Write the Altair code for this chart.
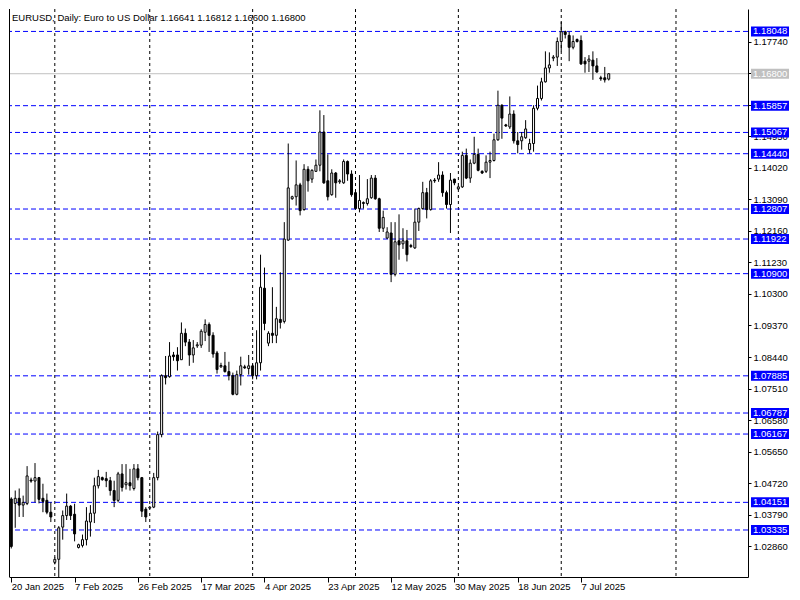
import altair as alt
import pandas as pd

# ---------------- data ----------------
opens = [1.0425, 1.0412, 1.0427, 1.0407, 1.0412, 1.0481, 1.0478, 1.0488, 1.0427, 1.0421,
         1.0386, 1.0238, 1.0247, 1.0342, 1.0376, 1.0404, 1.0380, 1.0282, 1.0288, 1.0305,
         1.0357, 1.0383, 1.0464, 1.0488, 1.0485, 1.0479, 1.0450, 1.0421, 1.0499, 1.0467,
         1.0473, 1.0456, 1.0514, 1.0488, 1.0395, 1.0398, 1.0401, 1.0488, 1.0615, 1.0789,
         1.0786, 1.0850, 1.0850, 1.0836, 1.0914, 1.0888, 1.0850, 1.0877, 1.0879, 1.0917,
         1.0940, 1.0908, 1.0856, 1.0815, 1.0818, 1.0801, 1.0789, 1.0734, 1.0792, 1.0815,
         1.0810, 1.0818, 1.0789, 1.0827, 1.1047, 1.0885, 1.0914, 1.0908, 1.0955, 1.0949,
         1.1189, 1.1311, 1.1317, 1.1352, 1.1279, 1.1398, 1.1369, 1.1392, 1.1410, 1.1508,
         1.1364, 1.1323, 1.1387, 1.1361, 1.1358, 1.1421, 1.1384, 1.1329, 1.1282, 1.1297,
         1.1297, 1.1314, 1.1372, 1.1311, 1.1224, 1.1195, 1.1210, 1.1088, 1.1187, 1.1178,
         1.1187, 1.1170, 1.1166, 1.1242, 1.1282, 1.1329, 1.1279, 1.1366, 1.1369, 1.1381,
         1.1329, 1.1294, 1.1369, 1.1340, 1.1346, 1.1439, 1.1372, 1.1416, 1.1442, 1.1392,
         1.1392, 1.1419, 1.1424, 1.1485, 1.1587, 1.1529, 1.1523, 1.1561, 1.1482, 1.1482,
         1.1491, 1.1456, 1.1474, 1.1578, 1.1607, 1.1656, 1.1697, 1.1726, 1.1729, 1.1775,
         1.1804, 1.1793, 1.1758, 1.1781, 1.1778, 1.1717, 1.1717, 1.1720, 1.1703, 1.1668,
         1.1668, 1.16641]
highs = [1.0430, 1.0450, 1.0456, 1.0435, 1.0522, 1.0488, 1.0531, 1.0490, 1.0470, 1.0441,
         1.0415, 1.0253, 1.0345, 1.0391, 1.0441, 1.0407, 1.0411, 1.0293, 1.0320, 1.0401,
         1.0407, 1.0488, 1.0511, 1.0491, 1.0505, 1.0490, 1.0479, 1.0505, 1.0528, 1.0528,
         1.0514, 1.0528, 1.0528, 1.0490, 1.0401, 1.0404, 1.0502, 1.0624, 1.0793, 1.0847,
         1.0888, 1.0859, 1.0873, 1.0946, 1.0928, 1.0897, 1.0894, 1.0888, 1.0926, 1.0955,
         1.0946, 1.0917, 1.0862, 1.0827, 1.0859, 1.0830, 1.0798, 1.0804, 1.0845, 1.0821,
         1.0850, 1.0824, 1.0923, 1.1146, 1.1108, 1.0920, 1.1050, 1.0992, 1.1094, 1.1242,
         1.1474, 1.1320, 1.1424, 1.1358, 1.1413, 1.1407, 1.1398, 1.1427, 1.1572, 1.1558,
         1.1442, 1.1398, 1.1390, 1.1369, 1.1427, 1.1424, 1.1395, 1.1332, 1.1381, 1.1303,
         1.1369, 1.1381, 1.1381, 1.1314, 1.1276, 1.1227, 1.1242, 1.1242, 1.1265, 1.1224,
         1.1219, 1.1178, 1.1282, 1.1285, 1.1361, 1.1343, 1.1369, 1.1372, 1.1419, 1.1392,
         1.1335, 1.1387, 1.1370, 1.1349, 1.1450, 1.1459, 1.1427, 1.1494, 1.1459, 1.1395,
         1.1439, 1.1450, 1.1503, 1.1630, 1.1590, 1.1532, 1.1613, 1.1572, 1.1508, 1.1508,
         1.1543, 1.1488, 1.1587, 1.1645, 1.1668, 1.1746, 1.1743, 1.1735, 1.1787, 1.1833,
         1.1807, 1.1804, 1.1793, 1.1784, 1.1793, 1.1729, 1.1735, 1.1746, 1.1726, 1.1674,
         1.1700, 1.16812]
lows = [1.0279, 1.0340, 1.0372, 1.0372, 1.0407, 1.0473, 1.0415, 1.0412, 1.0386, 1.0380,
        1.0357, 1.0232, 1.0141, 1.0305, 1.0363, 1.0363, 1.0300, 1.0279, 1.0282, 1.0288,
        1.0314, 1.0354, 1.0456, 1.0479, 1.0460, 1.0435, 1.0401, 1.0415, 1.0447, 1.0453,
        1.0450, 1.0450, 1.0480, 1.0372, 1.0357, 1.0395, 1.0398, 1.0480, 1.0607, 1.0763,
        1.0783, 1.0833, 1.0804, 1.0836, 1.0876, 1.0818, 1.0827, 1.0871, 1.0871, 1.0891,
        1.0859, 1.0842, 1.0795, 1.0812, 1.0798, 1.0775, 1.0731, 1.0731, 1.0760, 1.0809,
        1.0792, 1.0778, 1.0778, 1.0804, 1.0923, 1.0876, 1.0885, 1.0885, 1.0928, 1.0943,
        1.1187, 1.1308, 1.1291, 1.1262, 1.1276, 1.1332, 1.1358, 1.1390, 1.1392, 1.1355,
        1.1306, 1.1320, 1.1314, 1.1355, 1.1355, 1.1364, 1.1317, 1.1280, 1.1271, 1.1282,
        1.1291, 1.1311, 1.1308, 1.1213, 1.1213, 1.1192, 1.1065, 1.1082, 1.1131, 1.1163,
        1.1126, 1.1166, 1.1163, 1.1216, 1.1279, 1.1253, 1.1276, 1.1358, 1.1361, 1.1317,
        1.1282, 1.1210, 1.1351, 1.1337, 1.1343, 1.1369, 1.1358, 1.1413, 1.1392, 1.1384,
        1.1387, 1.1372, 1.1421, 1.1482, 1.1488, 1.1523, 1.1517, 1.1474, 1.1445, 1.1456,
        1.1488, 1.1445, 1.1450, 1.1572, 1.1601, 1.1654, 1.1683, 1.1717, 1.1703, 1.1746,
        1.1784, 1.1717, 1.1752, 1.1772, 1.1706, 1.1683, 1.1685, 1.1662, 1.1683, 1.1659,
        1.1654, 1.16600]
closes = [1.0285, 1.0427, 1.0407, 1.0415, 1.0493, 1.0478, 1.0488, 1.0424, 1.0418, 1.0386,
          1.0372, 1.0247, 1.0340, 1.0376, 1.0404, 1.0376, 1.0322, 1.0290, 1.0305, 1.0360,
          1.0383, 1.0464, 1.0491, 1.0482, 1.0479, 1.0450, 1.0421, 1.0499, 1.0459, 1.0473,
          1.0464, 1.0514, 1.0488, 1.0389, 1.0372, 1.0401, 1.0488, 1.0615, 1.0789, 1.0783,
          1.0847, 1.0845, 1.0833, 1.0914, 1.0888, 1.0850, 1.0871, 1.0880, 1.0920, 1.0940,
          1.0908, 1.0853, 1.0807, 1.0819, 1.0801, 1.0789, 1.0734, 1.0792, 1.0818, 1.0812,
          1.0818, 1.0789, 1.0827, 1.1050, 1.0943, 1.0914, 1.0908, 1.0957, 1.0946, 1.1192,
          1.1343, 1.1317, 1.1352, 1.1276, 1.1398, 1.1364, 1.1395, 1.1410, 1.1508, 1.1358,
          1.1317, 1.1387, 1.1358, 1.1364, 1.1421, 1.1384, 1.1323, 1.1282, 1.1306, 1.1300,
          1.1311, 1.1372, 1.1311, 1.1224, 1.1256, 1.1213, 1.1088, 1.1184, 1.1175, 1.1187,
          1.1146, 1.1173, 1.1242, 1.1282, 1.1329, 1.1279, 1.1364, 1.1364, 1.1381, 1.1329,
          1.1294, 1.1366, 1.1358, 1.1346, 1.1439, 1.1372, 1.1416, 1.1442, 1.1395, 1.1387,
          1.1419, 1.1424, 1.1485, 1.1587, 1.1549, 1.1526, 1.1561, 1.1482, 1.1471, 1.1494,
          1.1517, 1.1474, 1.1578, 1.1607, 1.1656, 1.1697, 1.1706, 1.1729, 1.1775, 1.1804,
          1.1796, 1.1758, 1.1775, 1.1775, 1.1709, 1.1709, 1.1723, 1.1703, 1.1685, 1.1665,
          1.1662, 1.16800]

level_values = [1.18048, 1.15857, 1.15067, 1.14440, 1.12807, 1.11922, 1.10900,
                1.07885, 1.06787, 1.06167, 1.04151, 1.03335]
current_price = [1.16800]
y_tick_values = [1.02860, 1.03790, 1.04720, 1.05650, 1.06580, 1.07510, 1.08440,
                 1.09370, 1.10300, 1.11230, 1.12160, 1.13090, 1.14020, 1.14950,
                 1.15880, 1.16810, 1.17740]
x_tick_index = [0, 16, 32, 48, 64, 80, 96, 112, 128, 144]
x_tick_labels = ["20 Jan 2025", "7 Feb 2025", "26 Feb 2025", "17 Mar 2025", "4 Apr 2025",
                 "23 Apr 2025", "12 May 2025", "30 May 2025", "18 Jun 2025", "7 Jul 2025"]
grid_index = [11, 35, 61, 87, 113, 139, 168]
header = ["EURUSD, Daily:  Euro to US Dollar  1.16641 1.16812 1.16600 1.16800"]

# ---------------- chart ----------------
W, H = 739, 568
FONT = "Liberation Sans"
FS = 9.5
LEVEL_BLUE = "#0000ff"
PRICE_GREY = "#c0c0c0"

df = pd.DataFrame({"i": list(range(len(opens))), "open": opens, "high": highs,
                   "low": lows, "close": closes})
df["body_fill"] = ["white" if c >= o else "black" for o, c in zip(opens, closes)]

levels = pd.DataFrame({"level": level_values,
                       "label": [f"{v:.5f}" for v in level_values]})
price = pd.DataFrame({"level": current_price,
                      "label": [f"{v:.5f}" for v in current_price]})
grid = pd.DataFrame({"i": grid_index})

xs = alt.Scale(domain=[-0.575, 186.2], nice=False, zero=False, padding=0)
ys = alt.Scale(domain=[1.01948, 1.1871], nice=False, zero=False, padding=0)

label_js = "[" + ",".join(f"'{s}'" for s in x_tick_labels) + "]"
idx_js = "[" + ",".join(str(v) for v in x_tick_index) + "]"
x_axis = alt.Axis(values=x_tick_index, labelExpr=f"{label_js}[indexof({idx_js}, datum.value)]",
                  orient="bottom", grid=False, title=None, domainColor="black",
                  tickColor="black", tickSize=5, labelAlign="left", labelBaseline="top",
                  labelFont=FONT, labelFontSize=FS, labelColor="black", labelPadding=-1,
                  labelOverlap=False, labelFlush=False, labelBound=False)
y_axis = alt.Axis(values=y_tick_values, format=".5f", orient="right", grid=False,
                  title=None, domainColor="black", tickColor="black", tickSize=3,
                  labelFont=FONT, labelFontSize=FS, labelColor="black", labelPadding=2,
                  labelOverlap=False, labelFlush=False, labelBound=False)

X = lambda f: alt.X(f, scale=xs, axis=x_axis)
Y = lambda f: alt.Y(f, scale=ys, axis=y_axis)

vgrid = alt.Chart(grid).mark_rule(color="black", strokeDash=[3, 3], strokeWidth=1).encode(
    x=X("i:Q"))

level_lines = alt.Chart(levels).mark_rule(color=LEVEL_BLUE, strokeDash=[5, 3],
                                          strokeWidth=1).encode(y=Y("level:Q"))
price_line = alt.Chart(price).mark_rule(color=PRICE_GREY, strokeWidth=1).encode(
    y=Y("level:Q"))

wicks = alt.Chart(df).mark_rule(color="black", strokeWidth=1, clip=True).encode(
    x=X("i:Q"), y=Y("low:Q"), y2="high:Q")
bodies = alt.Chart(df).mark_bar(size=2, stroke="black", strokeWidth=1, clip=True).encode(
    x=X("i:Q"), y=Y("open:Q"), y2="close:Q",
    fill=alt.Fill("body_fill:N", scale=None, legend=None))

def tag(data, colour):
    box = alt.Chart(data).mark_rect(color=colour, yOffset=-5, y2Offset=5).encode(
        y=Y("level:Q"), y2="level:Q", x=alt.value(W + 3), x2=alt.value(W + 41))
    txt = alt.Chart(data).mark_text(align="left", baseline="middle", color="white",
                                    font=FONT, fontSize=FS).encode(
        y=Y("level:Q"), x=alt.value(W + 5), text="label:N")
    return box + txt

head = alt.Chart(pd.DataFrame({"t": header})).mark_text(
    align="left", baseline="middle", color="black", font=FONT, fontSize=9.5).encode(
    x=alt.value(3), y=alt.value(9), text="t:N")

left_border = alt.Chart(pd.DataFrame({"z": [0]})).mark_rule(color="black").encode(
    x=alt.value(0.5), y=alt.value(0), y2=alt.value(H))

chart = alt.layer(
    vgrid, level_lines, price_line, wicks, bodies,
    tag(levels, LEVEL_BLUE), tag(price, PRICE_GREY), head, left_border
).properties(
    width=W, height=H, padding={"left": 0, "top": 0, "right": 0, "bottom": 0},
    background="white"
).configure_view(stroke=None)

chart.save("out.html", embed_options={"renderer": "svg", "actions": False})
